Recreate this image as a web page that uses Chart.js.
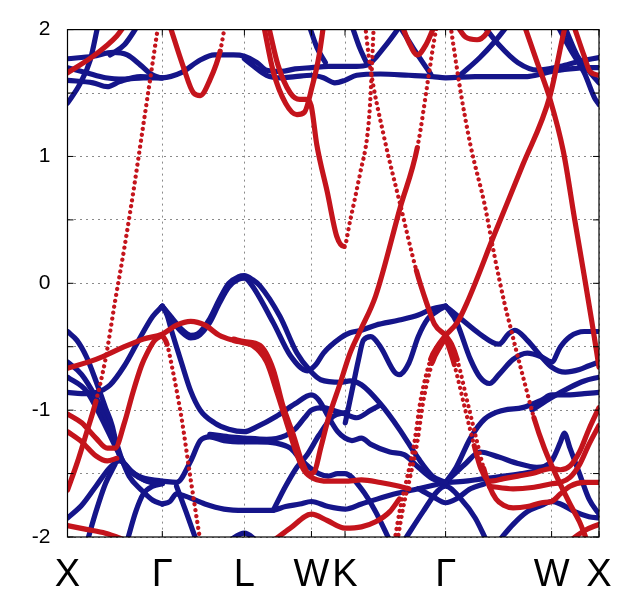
<!DOCTYPE html>
<html><head><meta charset="utf-8">
<script src="https://cdn.jsdelivr.net/npm/chart.js@4"></script>
<style>html,body{margin:0;padding:0;background:#fff}</style>
</head><body>
<canvas id="c" width="637" height="590"></canvas>
<script>
// high-symmetry path (k in 2π/a)
const kTicks  = [0, 1, 1.866, 2.573, 2.927, 3.988, 5.106, 5.606];
const kLabels = ['X', 'Γ', 'L', 'W', 'K', 'Γ', 'W', 'X'];
const eMin = -2, eMax = 2, eStep = 0.5;

// ---- blue (dominant) bands: [k, E] ----
const bT1 = [[0,1.77],[0.27,1.79],[0.48,1.82],[0.63,1.80],[0.77,1.72],[0.88,1.65],[1.0,1.62],[1.2,1.66],[1.4,1.76],[1.55,1.80],[1.75,1.80],[1.866,1.79],[2.0,1.74],[2.1,1.68],[2.25,1.67],[2.4,1.69],[2.573,1.70],[2.75,1.71],[2.927,1.71],[3.05,1.71],[3.16,1.72],[3.35,1.87],[3.51,2.03]];
const bT2a = [[0,1.60],[0.27,1.58],[0.42,1.55],[0.55,1.59],[0.77,1.63],[1.0,1.62]];
const bT2b = [[1.866,1.77],[1.95,1.72],[2.1,1.64],[2.25,1.62],[2.4,1.63],[2.573,1.64],[2.7,1.62],[2.82,1.58],[2.927,1.60],[3.05,1.64],[3.3,1.65],[3.6,1.64],[3.85,1.63],[3.988,1.62],[4.3,1.63],[4.6,1.63],[4.85,1.63],[5.0,1.65],[5.106,1.67],[5.3,1.69],[5.5,1.70],[5.606,1.70]];
const bT3 = [[0,1.70],[0.2,1.66],[0.4,1.62],[0.6,1.61],[0.8,1.62],[1.0,1.62]];
const bT4 = [[0,1.42],[0.13,1.57],[0.24,1.76],[0.32,2.03]];
const bT5 = [[0.45,1.80],[0.6,1.88],[0.74,2.03]];
const bT6 = [[3.5,2.03],[3.65,1.85],[3.83,1.65]];
const bT7 = [[4.14,1.64],[4.35,1.78],[4.5,1.9],[4.64,2.03]];
const bT8 = [[4.39,2.03],[4.55,1.88],[4.75,1.74],[4.96,1.68],[5.2,1.71],[5.4,1.75],[5.606,1.78]];
const bT9 = [[5.17,2.03],[5.30,1.85],[5.45,1.66],[5.56,1.46],[5.606,1.41]];
const bT10 = [[5.24,2.03],[5.38,1.79],[5.48,1.69],[5.606,1.58]];
const bT11 = [[2.55,2.03],[2.63,1.86],[2.72,1.74]];
const bT12 = [[3.0,2.03],[3.08,1.86],[3.16,1.73]];
const bL1 = [[0,-0.38],[0.1,-0.45],[0.2,-0.58],[0.3,-0.77],[0.4,-0.98],[0.47,-1.12],[0.52,-1.28],[0.56,-1.38],[0.65,-1.47],[0.75,-1.53],[0.88,-1.57],[1.0,-1.58]];
const bL2 = [[0,-0.62],[0.15,-0.72],[0.3,-0.9],[0.4,-1.05],[0.5,-1.22],[0.56,-1.36],[0.65,-1.52],[0.78,-1.63],[0.9,-1.71],[1.0,-1.74]];
const bL3 = [[0,-0.86],[0.15,-0.87],[0.3,-0.86],[0.45,-0.8],[0.6,-0.65],[0.75,-0.45],[0.9,-0.26],[1.0,-0.18]];
const bL4 = [[0,-0.74],[0.2,-0.85],[0.35,-1.05],[0.5,-1.28],[0.6,-1.42],[0.75,-1.52],[1.0,-1.56]];
const bL5 = [[0,-1.85],[0.15,-1.75],[0.3,-1.6],[0.45,-1.45],[0.55,-1.40],[0.7,-1.5],[0.85,-1.56],[1.0,-1.57]];
const bL6 = [[0.21,-2.03],[0.3,-1.8],[0.4,-1.58],[0.5,-1.43]];
const bL7 = [[0.63,-2.03],[0.72,-1.8],[0.8,-1.66],[0.9,-1.6],[1.0,-1.58]];
const bG1 = [[1.0,-0.18],[1.05,-0.25],[1.1,-0.38],[1.2,-0.62],[1.3,-0.85],[1.4,-1.0],[1.55,-1.1],[1.7,-1.15],[1.866,-1.17],[2.0,-1.13],[2.2,-1.05],[2.4,-0.95],[2.573,-0.88],[2.65,-0.92],[2.75,-1.05],[2.85,-1.17],[2.927,-1.22],[3.0,-1.24],[3.1,-1.22],[3.2,-1.27],[3.4,-1.33],[3.55,-1.35],[3.7,-1.45],[3.85,-1.54],[3.988,-1.57]];
const bG2 = [[1.0,-0.18],[1.1,-0.27],[1.2,-0.36],[1.3,-0.41],[1.37,-0.40],[1.5,-0.28],[1.6,-0.13],[1.7,0.0],[1.8,0.05],[1.866,0.06],[1.95,0.03],[2.03,-0.02],[2.24,-0.26],[2.42,-0.55],[2.56,-0.69],[2.67,-0.76],[2.88,-0.78],[2.98,-0.77],[3.1,-0.8],[3.3,-0.95],[3.5,-1.15],[3.7,-1.38],[3.85,-1.52],[3.988,-1.57]];
const bG3 = [[1.0,-0.18],[1.1,-0.29],[1.2,-0.38],[1.3,-0.43],[1.37,-0.42],[1.5,-0.31],[1.6,-0.16],[1.7,-0.03],[1.8,0.03],[1.866,0.04],[1.93,0.0],[2.17,-0.31],[2.35,-0.57],[2.53,-0.69],[2.62,-0.64],[2.70,-0.55],[2.88,-0.43],[2.98,-0.39],[3.1,-0.37],[3.25,-0.33],[3.5,-0.29],[3.7,-0.25],[3.85,-0.2],[3.988,-0.18]];
const bG4 = [[1.0,-1.56],[1.15,-1.57],[1.3,-1.40],[1.4,-1.24],[1.5,-1.21],[1.65,-1.24],[1.866,-1.25],[2.0,-1.25],[2.2,-1.26],[2.35,-1.3],[2.45,-1.38],[2.55,-1.45],[2.65,-1.5],[2.75,-1.52],[2.85,-1.5],[2.927,-1.5],[3.1,-1.62],[3.25,-1.8],[3.4,-2.03]];
const bG4b = [[1.5,-1.19],[1.7,-1.21],[1.866,-1.22],[2.1,-1.23],[2.3,-1.2],[2.4,-1.15],[2.5,-1.06],[2.573,-1.0],[2.7,-0.98],[2.8,-1.0],[2.927,-1.03],[3.05,-1.06],[3.2,-1.0],[3.3,-0.96]];
const bG5 = [[1.0,-1.74],[1.08,-1.72],[1.15,-1.66],[1.25,-1.68],[1.45,-1.74],[1.65,-1.78],[1.866,-1.79],[2.0,-1.79],[2.15,-1.79],[2.3,-1.76],[2.45,-1.74],[2.573,-1.72],[2.75,-1.76],[2.927,-1.78],[3.1,-1.74],[3.4,-1.67],[3.7,-1.62],[3.988,-1.57]];
const bG6 = [[1.15,-1.6],[1.25,-1.8],[1.36,-2.03]];
const bG7 = [[1.7,-2.03],[1.866,-1.97],[2.0,-2.03]];
const bWK = [[2.17,-1.79],[2.3,-1.6],[2.42,-1.45],[2.53,-1.35],[2.65,-1.2],[2.8,-1.05],[2.927,-1.02]];
const bWig = [[2.93,-1.1],[3.0,-0.85],[3.07,-0.6],[3.12,-0.45],[3.2,-0.42],[3.3,-0.5],[3.45,-0.7],[3.5,-0.72],[3.6,-0.63],[3.7,-0.42],[3.8,-0.28],[3.9,-0.22],[3.988,-0.18]];
const bGb1 = [[3.55,-2.03],[3.75,-1.8],[3.9,-1.64],[3.988,-1.6],[4.15,-1.7],[4.3,-1.85],[4.42,-2.03]];
const bGb2 = [[3.7,-1.62],[3.85,-1.68],[3.988,-1.73],[4.1,-1.70],[4.25,-1.62],[4.4,-1.58]];
const bWb = [[4.55,-2.03],[4.7,-1.9],[4.85,-1.8],[5.0,-1.75],[5.106,-1.72],[5.2,-1.74],[5.35,-1.8],[5.5,-1.84],[5.606,-1.85]];
const bW1 = [[3.988,-0.18],[4.15,-0.28],[4.35,-0.4],[4.55,-0.48],[4.65,-0.4],[4.72,-0.37],[4.85,-0.45],[5.0,-0.58],[5.106,-0.66],[5.25,-0.70],[5.4,-0.68],[5.5,-0.65],[5.606,-0.62]];
const bW2 = [[3.988,-0.18],[4.1,-0.3],[4.25,-0.6],[4.35,-0.74],[4.45,-0.79],[4.55,-0.72],[4.7,-0.6],[4.85,-0.55],[5.0,-0.58],[5.106,-0.62],[5.2,-0.5],[5.3,-0.42],[5.45,-0.38],[5.606,-0.38]];
const bW3 = [[3.988,-1.57],[4.1,-1.45],[4.25,-1.22],[4.4,-1.07],[4.6,-1.0],[4.8,-0.98],[5.0,-0.92],[5.106,-0.88],[5.3,-0.88],[5.45,-0.87],[5.606,-0.86]];
const bW4 = [[3.988,-1.57],[4.2,-1.42],[4.35,-1.33],[4.55,-1.37],[4.75,-1.42],[4.95,-1.45],[5.106,-1.40],[5.2,-1.25],[5.24,-1.18],[5.3,-1.3],[5.4,-1.5],[5.5,-1.7],[5.606,-1.82]];
const bW5 = [[3.988,-1.57],[4.2,-1.56],[4.4,-1.54],[4.6,-1.52],[4.8,-1.5],[5.0,-1.47],[5.106,-1.45]];
const bW6 = [[4.9,-1.0],[5.106,-0.9],[5.3,-0.82],[5.45,-0.77],[5.606,-0.74]];

// ---- red (minority) bands: [k, E] ----
const rS1 = [[0,-1.63],[0.1,-1.42],[0.2,-1.18],[0.3,-0.93],[0.4,-0.60],[0.5,-0.15],[0.6,0.28],[0.7,0.75],[0.8,1.25],[0.9,1.75],[0.96,2.05]];
const rX  = [[0,-0.67],[0.3,-0.6],[0.6,-0.5],[0.8,-0.44],[1.0,-0.40],[1.15,-0.33],[1.3,-0.30],[1.45,-0.33],[1.6,-0.41],[1.75,-0.45],[1.866,-0.47],[1.95,-0.49],[2.1,-0.62],[2.21,-0.86],[2.32,-1.12],[2.42,-1.35],[2.5,-1.48],[2.6,-1.54],[2.75,-1.56],[2.927,-1.56],[3.1,-1.55],[3.3,-1.57],[3.5,-1.6],[3.6,-1.62]];
const rX2 = [[1.75,-0.44],[1.866,-0.46],[2.03,-0.49],[2.17,-0.68],[2.27,-0.96],[2.38,-1.19],[2.47,-1.40],[2.55,-1.50],[2.6,-1.49],[2.67,-1.3],[2.75,-1.07],[2.88,-0.78],[2.98,-0.55],[3.09,-0.37],[3.25,-0.10],[3.51,0.60],[3.69,1.07],[3.81,1.64],[3.88,1.97],[3.9,2.03]];
const rXG = [[0,-1.03],[0.15,-1.1],[0.3,-1.22],[0.42,-1.3],[0.5,-1.3],[0.6,-1.1],[0.69,-0.86],[0.78,-0.65],[0.84,-0.55],[0.92,-0.45],[1.0,-0.41]];
const rX3 = [[0,-1.17],[0.15,-1.25],[0.3,-1.36],[0.42,-1.4],[0.52,-1.38]];
const rX4 = [[0,-1.91],[0.2,-1.94],[0.4,-1.97],[0.63,-2.03]];
const rX5 = [[0,1.66],[0.27,1.79],[0.52,1.95],[0.6,2.03]];
const rGd = [[1.0,-0.41],[1.05,-0.48],[1.1,-0.65],[1.2,-1.05],[1.3,-1.55],[1.4,-2.03]];
const rGL = [[1.08,2.03],[1.22,1.71],[1.33,1.50],[1.40,1.48],[1.50,1.60],[1.61,1.83],[1.66,2.03]];
const rA  = [[2.07,2.03],[2.17,1.67],[2.3,1.42],[2.42,1.33],[2.5,1.35],[2.58,1.55],[2.65,1.78],[2.7,2.03]];
const rB  = [[2.12,2.03],[2.22,1.72],[2.35,1.5],[2.45,1.45],[2.52,1.45],[2.57,1.40],[2.63,1.09],[2.74,0.72],[2.84,0.37],[2.918,0.29],[2.98,0.49],[3.09,0.88],[3.16,1.15],[3.19,1.40],[3.23,2.03]];
const rW  = [[2.17,-2.03],[2.35,-1.93],[2.573,-1.82],[2.74,-1.87],[2.927,-1.93],[3.1,-1.92],[3.25,-1.88],[3.4,-1.8],[3.5,-1.7]];
const rKG = [[3.14,2.03],[3.19,1.72],[3.34,1.15],[3.51,0.62],[3.68,0.10],[3.79,-0.16],[3.87,-0.32],[3.988,-0.41]];
const rLamL1 = [[3.45,-2.03],[3.51,-1.77],[3.58,-1.54],[3.66,-1.25],[3.72,-0.94],[3.83,-0.6],[3.9,-0.5],[3.988,-0.41]];
const rLamL2 = [[3.48,-2.03],[3.54,-1.77],[3.61,-1.54],[3.69,-1.25],[3.75,-0.94],[3.85,-0.62],[3.93,-0.5],[3.988,-0.43]];
const rLamR1 = [[3.988,-0.41],[4.05,-0.48],[4.11,-0.6],[4.22,-0.94],[4.32,-1.25],[4.39,-1.46],[4.45,-1.6],[4.52,-1.7],[4.6,-1.75],[4.7,-1.77],[4.85,-1.76],[5.0,-1.73],[5.106,-1.72],[5.2,-1.66],[5.3,-1.6],[5.45,-1.57],[5.606,-1.57]];
const rLamR2 = [[3.988,-0.43],[4.03,-0.52],[4.08,-0.64],[4.19,-0.98],[4.29,-1.28],[4.36,-1.46],[4.45,-1.56],[4.6,-1.54],[4.75,-1.52],[4.9,-1.5],[5.106,-1.46],[5.2,-1.47],[5.3,-1.44],[5.4,-1.33],[5.5,-1.15],[5.606,-0.98]];
const rWX2 = [[4.45,-1.6],[4.7,-1.62],[4.9,-1.61],[5.106,-1.58],[5.2,-1.57],[5.3,-1.53],[5.4,-1.43],[5.5,-1.27],[5.606,-1.12]];
const rWX3 = [[5.3,-2.03],[5.45,-1.95],[5.606,-1.9]];
const rGW  = [[3.988,-0.41],[4.11,-0.31],[4.21,-0.16],[4.5,0.38],[4.8,0.93],[5.09,1.48],[5.22,1.93],[5.25,2.03]];
const rGWd = [[4.04,2.03],[4.14,1.54],[4.25,1.09],[4.40,0.62],[4.50,0.23],[4.61,-0.16],[4.67,-0.34],[4.74,-0.55],[4.82,-0.78],[4.92,-1.06],[5.03,-1.30],[5.17,-1.54],[5.30,-1.74],[5.4,-1.88],[5.48,-2.03]];
const rWtop = [[4.82,2.03],[4.95,1.75],[5.09,1.45],[5.23,1.04],[5.35,0.5],[5.45,0.06],[5.53,-0.3],[5.606,-0.66]];
const rXtop = [[5.34,2.03],[5.45,1.79],[5.51,1.67],[5.606,1.64]];
const rU1 = [[3.53,2.03],[3.6,1.9],[3.69,1.80],[3.78,1.88],[3.87,2.03]];
const rU2 = [[4.11,2.03],[4.2,1.94],[4.32,1.92],[4.42,1.97],[4.46,2.03]];

const blueBands = [bT1,bT2a,bT2b,bT3,bT4,bT5,bT6,bT7,bT8,bT9,bT10,bT11,bT12,bL1,bL2,bL3,bL4,bL5,bL6,bL7,bG1,bG2,bG3,bG4,bG4b,bG5,bG6,bG7,bWK,bWig,bGb1,bGb2,bWb,bW1,bW2,bW3,bW4,bW5,bW6];
const redBands = [rS1,rX,rX2,rXG,rX3,rX4,rX5,rGd,rGL,rA,rB,rW,rKG,rLamL1,rLamL2,rLamR1,rLamR2,rWX2,rWX3,rGW,rGWd,rWtop,rXtop,rU1,rU2];

const RED = '#c4141c', BLUE = '#15158a';

function segLenAt(k){
  for (let i = 0; i < kTicks.length - 1; i++) if (k < kTicks[i+1]) return kTicks[i+1] - kTicks[i];
  return kTicks[kTicks.length-1] - kTicks[kTicks.length-2];
}
// steep parts of a band (sparse k-sampling) show up as separate dots
function isSteep(ctx, limit){
  const a = ctx.p0.parsed, b = ctx.p1.parsed;
  const s = Math.abs((b.y - a.y) / (b.x - a.x));
  return s * segLenAt((a.x + b.x) / 2) > limit;
}
function mk(band, color, limit){
  return {data: band, borderColor: color, borderWidth: 5.2, pointRadius: 0,
    cubicInterpolationMode: 'monotone', borderCapStyle: 'round', borderJoinStyle: 'round',
    clip: 0,
    segment: {
      borderDash: ctx => isSteep(ctx, limit) ? [0.01, 6] : undefined,
      borderWidth: ctx => isSteep(ctx, limit) ? 4.3 : undefined
    }};
}
const datasets = [...redBands.map(b => mk(b, RED, 2.9)), ...blueBands.map(b => mk(b, BLUE, 4.5))];

const framePlugin = {
  id: 'frame',
  afterDraw(chart){
    const {ctx, chartArea: a, scales} = chart;
    ctx.save();
    ctx.strokeStyle = '#000'; ctx.lineWidth = 1.2;
    ctx.strokeRect(a.left, a.top, a.right - a.left, a.bottom - a.top);
    ctx.lineWidth = 1;
    ctx.beginPath();
    scales.y.ticks.forEach(t => {
      const y = scales.y.getPixelForValue(t.value);
      ctx.moveTo(a.left, y); ctx.lineTo(a.left + 6, y);
      ctx.moveTo(a.right, y); ctx.lineTo(a.right - 6, y);
    });
    scales.x.ticks.forEach(t => {
      const x = scales.x.getPixelForValue(t.value);
      ctx.moveTo(x, a.top); ctx.lineTo(x, a.top + 6);
      ctx.moveTo(x, a.bottom); ctx.lineTo(x, a.bottom - 6);
    });
    ctx.stroke();
    ctx.restore();
  }
};

const FONT = "'Liberation Sans', Arial, Helvetica, sans-serif";
new Chart(document.getElementById('c'), {
  type: 'line',
  data: {datasets},
  options: {
    responsive: false, animation: false, devicePixelRatio: 1,
    layout: {padding: {top: 24, right: 38, left: 0, bottom: 0}},
    plugins: {legend: {display: false}, tooltip: {enabled: false}},
    scales: {
      x: {type: 'linear', min: kTicks[0], max: kTicks[kTicks.length-1],
        afterBuildTicks: s => { s.ticks = kTicks.map(v => ({value: v})); },
        afterFit: s => { s.height = 53; },
        ticks: {autoSkip: false, maxRotation: 0, padding: 16, color: '#000',
          font: {size: 38, family: FONT},
          callback: (v, i) => kLabels[i]},
        grid: {color: '#8a8a8a', lineWidth: 1, drawTicks: false},
        border: {display: false, dash: [2, 4]}},
      y: {type: 'linear', min: eMin, max: eMax,
        afterFit: s => { s.width = 67.5; },
        ticks: {stepSize: eStep, padding: 17, color: '#000',
          font: {size: 21, family: FONT},
          callback: v => Number.isInteger(v) ? String(v) : ''},
        grid: {color: '#8a8a8a', lineWidth: 1, drawTicks: false},
        border: {display: false, dash: [2, 4]}}
    }
  },
  plugins: [framePlugin]
});
</script>
</body></html>
